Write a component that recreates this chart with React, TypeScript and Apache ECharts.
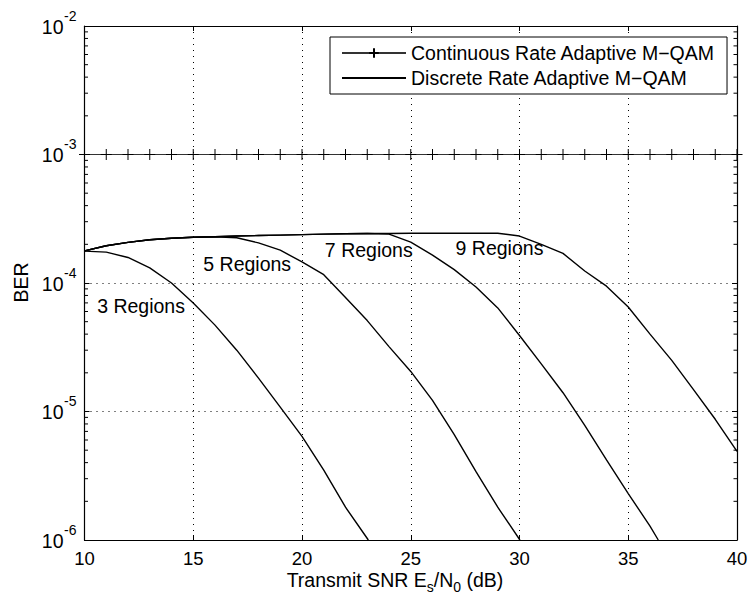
import React, { useEffect, useRef } from 'react';
import * as echarts from 'echarts';

const FONT = '"Liberation Sans", Arial, Helvetica, sans-serif';

// Transmit SNR range (dB) and axis settings
const SNR_MIN = 10;
const SNR_MAX = 40;
const SNR_STEP = 5;
const BER_MIN = 1e-6;
const BER_MAX = 1e-2;

// Decade tick values and their exponent labels
const BER_TICKS = [1e-6, 1e-5, 1e-4, 1e-3, 1e-2];
const BER_TICK_EXP = ['-6', '-5', '-4', '-3', '-2'];

// Continuous-rate adaptive M-QAM: BER held at the target
const CONT_SNR = [10, 11, 12, 13, 14, 15, 16, 17, 18, 19, 20, 21, 22, 23, 24, 25, 26, 27, 28, 29, 30, 31, 32, 33, 34, 35, 36, 37, 38, 39, 40];
const CONT_BER = [
  1e-3, 1e-3, 1e-3, 1e-3, 1e-3, 1e-3, 1e-3, 1e-3, 1e-3, 1e-3, 1e-3,
  1e-3, 1e-3, 1e-3, 1e-3, 1e-3, 1e-3, 1e-3, 1e-3, 1e-3, 1e-3,
  1e-3, 1e-3, 1e-3, 1e-3, 1e-3, 1e-3, 1e-3, 1e-3, 1e-3, 1e-3,
];

// Discrete-rate adaptive M-QAM, 3 regions
const R3_SNR = [10, 11, 12, 13, 14, 15, 16, 17, 18, 19, 20, 21, 22, 23.05];
const R3_BER = [1.77e-4, 1.74e-4, 1.58e-4, 1.31e-4, 1.0e-4, 7.0e-5, 4.7e-5, 3.0e-5, 1.82e-5, 1.08e-5, 6.4e-6, 3.5e-6, 1.8e-6, 1.0e-6];

// 5 regions
const R5_SNR = [10, 11, 12, 13, 14, 15, 16, 17, 18, 19, 20, 21, 22, 23, 24, 25, 26, 27, 28, 29, 30.02];
const R5_BER = [1.78e-4, 1.95e-4, 2.07e-4, 2.17e-4, 2.23e-4, 2.27e-4, 2.29e-4, 2.25e-4, 2.05e-4, 1.8e-4, 1.46e-4, 1.16e-4, 7.7e-5, 5.1e-5, 3.2e-5, 2.05e-5, 1.22e-5, 6.6e-6, 3.4e-6, 1.8e-6, 1.0e-6];

// 7 regions
const R7_SNR = [10, 11, 12, 13, 14, 15, 16, 17, 18, 19, 20, 21, 22, 23, 24, 25, 26, 27, 28, 29, 30, 31, 32, 33, 34, 35, 36, 36.38];
const R7_BER = [1.78e-4, 1.95e-4, 2.07e-4, 2.17e-4, 2.23e-4, 2.27e-4, 2.29e-4, 2.32e-4, 2.34e-4, 2.36e-4, 2.38e-4, 2.4e-4, 2.42e-4, 2.43e-4, 2.4e-4, 2.08e-4, 1.65e-4, 1.27e-4, 9.3e-5, 6.4e-5, 3.9e-5, 2.35e-5, 1.4e-5, 7.8e-6, 4.2e-6, 2.3e-6, 1.28e-6, 1.0e-6];

// 9 regions
const R9_SNR = [10, 11, 12, 13, 14, 15, 16, 17, 18, 19, 20, 21, 22, 23, 24, 25, 26, 27, 28, 29, 30, 31, 32, 33, 34, 35, 36, 37, 38, 39, 40];
const R9_BER = [1.78e-4, 1.95e-4, 2.07e-4, 2.17e-4, 2.23e-4, 2.27e-4, 2.29e-4, 2.32e-4, 2.34e-4, 2.36e-4, 2.38e-4, 2.4e-4, 2.42e-4, 2.43e-4, 2.43e-4, 2.44e-4, 2.44e-4, 2.44e-4, 2.44e-4, 2.44e-4, 2.32e-4, 2.0e-4, 1.7e-4, 1.24e-4, 9.45e-5, 6.5e-5, 4.0e-5, 2.5e-5, 1.48e-5, 8.7e-6, 4.9e-6];

// Curve annotations, placed in data coordinates
const REGION_LABELS = ['3 Regions', '5 Regions', '7 Regions', '9 Regions'];
const REGION_LABEL_SNR = [12.6, 17.48, 23.07, 29.08];
const REGION_LABEL_BER = [6.6e-5, 1.4e-4, 1.81e-4, 1.86e-4];

const CONT_NAME = 'Continuous Rate Adaptive M\u2212QAM';
const DISC_NAME = 'Discrete Rate Adaptive M\u2212QAM';

// x-axis title pieces: [text, isSubscript]
const X_TITLE: [string, boolean][] = [
  ['Transmit SNR E', false],
  ['s', true],
  ['/N', false],
  ['0', true],
  [' (dB)', false],
];

// Log-decade minor tick positions (2..9 x 10^k)
const MINOR_TICKS: number[] = [];
for (let e = -6; e < -2; e++) {
  for (let m = 2; m <= 9; m++) MINOR_TICKS.push(m * Math.pow(10, e));
}

const zip = (xs: number[], ys: number[]) => xs.map((x, i) => [x, ys[i]]);

const MAIN_SIZE = 19.5;
const SCRIPT_SIZE = 14;

function measure(text: string, size: number): number {
  const ctx = document.createElement('canvas').getContext('2d');
  if (!ctx) return text.length * size * 0.55;
  ctx.font = `${size}px ${FONT}`;
  return ctx.measureText(text).width;
}

export default function App() {
  const ref = useRef<HTMLDivElement>(null);

  useEffect(() => {
    if (!ref.current) return;
    const chart = echarts.init(ref.current, undefined, { renderer: 'svg' });

    const discreteSeries = [
      { data: zip(R3_SNR, R3_BER), idx: 0 },
      { data: zip(R5_SNR, R5_BER), idx: 1 },
      { data: zip(R7_SNR, R7_BER), idx: 2 },
      { data: zip(R9_SNR, R9_BER), idx: 3 },
    ].map(({ data, idx }) => ({
      name: DISC_NAME,
      type: 'line',
      data,
      symbol: 'none',
      smooth: false,
      lineStyle: { color: '#000', width: 1.4 },
      itemStyle: { color: '#000' },
      z: 4,
      markPoint: {
        symbol: 'circle',
        symbolSize: 0,
        silent: true,
        data: [
          {
            name: REGION_LABELS[idx],
            coord: [REGION_LABEL_SNR[idx], REGION_LABEL_BER[idx]],
          },
        ],
        label: {
          show: true,
          position: 'inside',
          formatter: '{b}',
          color: '#000',
          fontSize: MAIN_SIZE,
          fontFamily: FONT,
        },
      },
    }));

    const option: any = {
      animation: false,
      backgroundColor: '#fff',
      textStyle: { fontFamily: FONT, color: '#000' },
      grid: { left: 84.5, right: 14, top: 26, bottom: 61 },
      legend: {
        data: [
          { name: CONT_NAME },
          { name: DISC_NAME, itemStyle: { opacity: 0 } },
        ],
        orient: 'vertical',
        left: 330,
        top: 37,
        selectedMode: false,
        itemWidth: 64,
        itemHeight: 12,
        itemGap: 3,
        padding: [5, 12, 5, 11],
        borderColor: '#000',
        borderWidth: 1,
        backgroundColor: '#fff',
        textStyle: { fontSize: MAIN_SIZE, lineHeight: 22, color: '#000', fontFamily: FONT },
      },
      xAxis: [
        {
          type: 'value',
          min: SNR_MIN,
          max: SNR_MAX,
          interval: SNR_STEP,
          position: 'bottom',
          axisLine: { onZero: false, lineStyle: { color: '#000', width: 1.2 } },
          axisTick: { inside: true, length: 5, lineStyle: { color: '#000' } },
          axisLabel: { color: '#000', fontSize: 18.5, lineHeight: 16, margin: 10, fontFamily: FONT },
          splitLine: { show: true, lineStyle: { color: '#000', type: [1, 5], width: 1 } },
        },
        {
          type: 'value',
          min: SNR_MIN,
          max: SNR_MAX,
          interval: SNR_STEP,
          position: 'top',
          axisLine: { onZero: false, lineStyle: { color: '#000', width: 1.2 } },
          axisTick: { inside: true, length: 5, lineStyle: { color: '#000' } },
          axisLabel: { show: false },
          splitLine: { show: false },
        },
      ],
      yAxis: [
        {
          type: 'log',
          logBase: 10,
          min: BER_MIN,
          max: BER_MAX,
          position: 'left',
          axisLine: { onZero: false, lineStyle: { color: '#000', width: 1.2 } },
          axisTick: { inside: true, length: 5, lineStyle: { color: '#000' } },
          axisLabel: { show: false },
          splitLine: { show: true, lineStyle: { color: '#000', type: [1, 5], width: 1 } },
        },
        {
          type: 'log',
          logBase: 10,
          min: BER_MIN,
          max: BER_MAX,
          position: 'right',
          axisLine: { onZero: false, lineStyle: { color: '#000', width: 1.2 } },
          axisTick: { inside: true, length: 5, lineStyle: { color: '#000' } },
          axisLabel: { show: false },
          splitLine: { show: false },
        },
      ],
      series: [
        {
          name: CONT_NAME,
          type: 'line',
          data: zip(CONT_SNR, CONT_BER),
          symbol: 'path://M5,0L5,10M0,5L10,5',
          symbolSize: 11,
          showAllSymbol: true,
          lineStyle: { color: '#333', width: 1 },
          itemStyle: { color: 'rgba(0,0,0,0)', borderColor: '#000', borderWidth: 1 },
          z: 3,
        },
        ...discreteSeries,
        {
          type: 'custom',
          silent: true,
          data: MINOR_TICKS.map((v) => [SNR_MIN, v]),
          encode: { x: 0, y: 1 },
          z: 6,
          renderItem: (_params: any, api: any) => {
            const v = api.value(1);
            const l = api.coord([SNR_MIN, v]);
            const r = api.coord([SNR_MAX, v]);
            return {
              type: 'group',
              children: [
                { type: 'line', shape: { x1: l[0], y1: l[1], x2: l[0] + 3.5, y2: l[1] }, style: { stroke: '#000', lineWidth: 1 } },
                { type: 'line', shape: { x1: r[0], y1: r[1], x2: r[0] - 3.5, y2: r[1] }, style: { stroke: '#000', lineWidth: 1 } },
              ],
            };
          },
        },
      ],
    };

    chart.setOption(option);

    // Decade labels "10" with a raised exponent, positioned through the y-axis scale
    const axisX = chart.convertToPixel({ xAxisIndex: 0 }, SNR_MIN) as number;
    const tickLabels: any[] = [];
    BER_TICKS.forEach((v, i) => {
      const py = chart.convertToPixel({ yAxisIndex: 0 }, v) as number;
      tickLabels.push({
        type: 'text',
        x: axisX - 21,
        y: py + 0.5,
        style: {
          text: '10',
          fontSize: MAIN_SIZE,
          fontFamily: FONT,
          fill: '#000',
          align: 'right',
          verticalAlign: 'middle',
        },
      });
      tickLabels.push({
        type: 'text',
        x: axisX - 20.5,
        y: py - 10.5,
        style: {
          text: BER_TICK_EXP[i],
          fontSize: SCRIPT_SIZE,
          fontFamily: FONT,
          fill: '#000',
          align: 'left',
          verticalAlign: 'middle',
        },
      });
    });

    // x-axis title assembled from normal and subscript pieces
    const titleCenterX = 395;
    const titleY = 579.5;
    const widths = X_TITLE.map(([t, sub]) => measure(t, sub ? SCRIPT_SIZE : MAIN_SIZE));
    const total = widths.reduce((a, b) => a + b, 0);
    let cursor = titleCenterX - total / 2;
    const titlePieces = X_TITLE.map(([t, sub], i) => {
      const el = {
        type: 'text',
        x: cursor,
        y: sub ? titleY + 7.5 : titleY,
        style: {
          text: t,
          fontSize: sub ? SCRIPT_SIZE : MAIN_SIZE,
          lineHeight: sub ? 14 : 18,
          fontFamily: FONT,
          fill: '#000',
          align: 'left',
          verticalAlign: 'middle',
        },
      };
      cursor += widths[i];
      return el;
    });

    chart.setOption({
      graphic: [
        ...titlePieces,
        {
          type: 'text',
          x: 21,
          y: 282.5,
          rotation: Math.PI / 2,
          style: {
            text: 'BER',
            fontSize: MAIN_SIZE,
            fontFamily: FONT,
            fill: '#000',
            align: 'center',
            verticalAlign: 'middle',
          },
        },
        ...tickLabels,
      ],
    });

    return () => chart.dispose();
  }, []);

  return (
    <div
      ref={ref}
      style={{ position: 'fixed', left: 0, top: 0, width: 751, height: 601, background: '#fff' }}
    />
  );
}
